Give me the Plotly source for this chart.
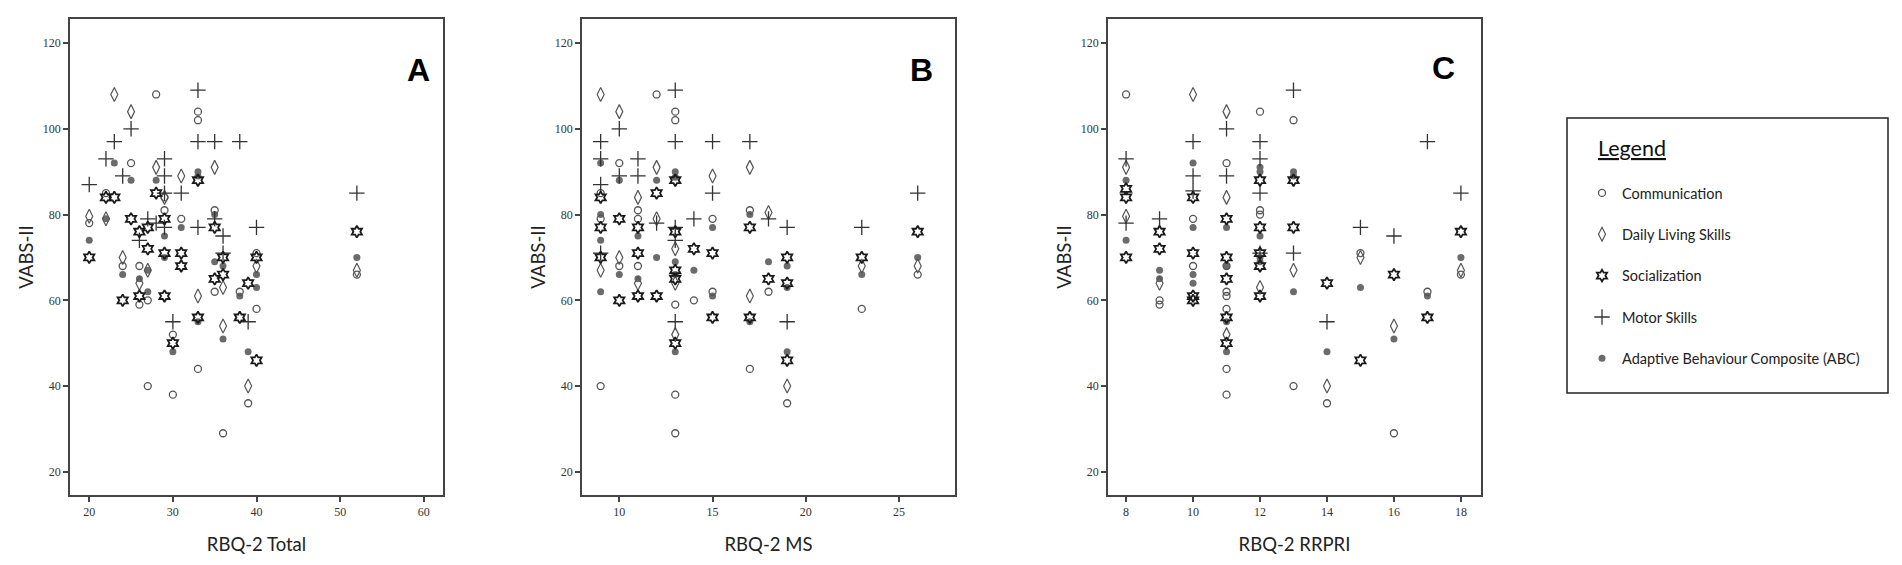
import plotly.graph_objects as go

# Panel A: RBQ-2 Total
a_comm_x = [20, 22, 24, 25, 26, 26, 27, 27, 28, 29, 29, 30, 30, 31, 33, 33, 33, 35, 35, 36, 38, 39, 40, 40, 52]
a_comm_y = [78, 85, 68, 92, 68, 59, 60, 40, 108, 84, 81, 52, 38, 79, 104, 102, 44, 81, 62, 29, 62, 36, 71, 58, 66]
a_dls_x = [20, 22, 23, 24, 25, 26, 27, 28, 29, 31, 33, 35, 36, 36, 39, 40, 52]
a_dls_y = [79.6, 79, 108, 70, 104, 64, 67, 91, 84, 89, 61, 91, 63, 54, 40, 68, 67]
a_soc_x = [20, 22, 23, 24, 25, 26, 26, 27, 27, 28, 29, 29, 29, 30, 31, 31, 33, 33, 35, 35, 36, 36, 38, 39, 40, 40, 52]
a_soc_y = [70, 84, 84, 60, 79, 76, 61, 77, 72, 85, 79, 71, 61, 50, 71, 68, 88, 56, 77, 65, 70, 66, 56, 64, 70, 46, 76]
a_mot_x = [20, 22, 23, 24, 25, 26, 27, 28, 29, 29, 29, 29, 30, 31, 33, 33, 33, 35, 35, 36, 36, 38, 39, 40, 52]
a_mot_y = [87, 93, 97, 89, 100, 74, 79, 78, 93, 89, 85, 77, 55, 85, 109, 97, 77, 97, 79, 75, 71, 97, 55, 77, 85]
a_abc_x = [20, 22, 23, 24, 25, 26, 27, 27, 28, 29, 29, 30, 31, 33, 33, 33, 35, 35, 36, 36, 38, 39, 40, 40, 52]
a_abc_y = [74, 79, 92, 66, 88, 65, 62, 67, 88, 75, 70, 48, 77, 90, 89, 55, 80, 69, 68, 51, 61, 48, 66, 63, 70]

# Panel B: RBQ-2 MS
b_comm_x = [9, 9, 9, 10, 10, 11, 11, 11, 12, 13, 13, 13, 13, 13, 14, 15, 15, 17, 17, 18, 19, 23, 26]
b_comm_y = [85, 79, 40, 92, 68, 81, 79, 68, 108, 104, 102, 59, 38, 29, 60, 79, 62, 81, 44, 62, 36, 58, 66]
b_dls_x = [9, 9, 10, 10, 11, 11, 12, 12, 13, 13, 13, 15, 17, 17, 18, 19, 23, 26]
b_dls_y = [108, 67, 104, 70, 84, 64, 91, 79, 72, 64, 52, 89, 91, 61, 80.5, 40, 68, 68]
b_soc_x = [9, 9, 9, 10, 10, 11, 11, 11, 12, 12, 13, 13, 13, 13, 13, 14, 15, 15, 17, 17, 18, 19, 19, 19, 23, 26]
b_soc_y = [84, 77, 70, 79, 60, 77, 71, 61, 85, 61, 88, 76, 67, 65, 50, 72, 71, 56, 77, 56, 65, 70, 64, 46, 70, 76]
b_mot_x = [9, 9, 9, 9, 10, 10, 11, 11, 12, 13, 13, 13, 13, 13, 14, 15, 15, 17, 18, 19, 19, 23, 26]
b_mot_y = [97, 93, 87, 71, 100, 89, 93, 89, 78, 109, 97, 77, 74, 55, 79, 97, 85, 97, 79, 77, 55, 77, 85]
b_abc_x = [9, 9, 9, 9, 10, 10, 11, 11, 12, 12, 13, 13, 13, 13, 13, 14, 15, 15, 17, 17, 18, 19, 19, 19, 23, 26]
b_abc_y = [92, 80, 74, 62, 88, 66, 75, 65, 88, 70, 90, 88.7, 69, 66, 48, 67, 77, 61, 80, 55, 69, 68, 63, 48, 66, 70]

# Panel C: RBQ-2 RRPRI
c_comm_x = [8, 9, 9, 10, 10, 11, 11, 11, 11, 11, 11, 11, 12, 12, 12, 13, 13, 14, 15, 16, 17, 18]
c_comm_y = [108, 60, 59, 79, 68, 92, 68, 62, 61, 58, 44, 38, 104, 81, 80, 102, 40, 36, 71, 29, 62, 66]
c_dls_x = [8, 8, 9, 10, 11, 11, 11, 12, 13, 14, 15, 16, 18]
c_dls_y = [91, 79.6, 64, 108, 104, 84, 52, 63, 67, 40, 70, 54, 67]
c_soc_x = [8, 8, 8, 9, 9, 10, 10, 10, 10, 11, 11, 11, 11, 11, 12, 12, 12, 12, 12, 13, 13, 14, 15, 16, 17, 18]
c_soc_y = [86, 84, 70, 76, 72, 84, 71, 61, 60, 79, 70, 65, 56, 50, 88, 77, 71, 68, 61, 88, 77, 64, 46, 66, 56, 76]
c_mot_x = [8, 8, 9, 10, 10, 10, 11, 11, 12, 12, 12, 12, 13, 13, 14, 15, 16, 17, 18]
c_mot_y = [93, 78, 79, 97, 89, 85.5, 100, 89, 97, 93, 85, 71, 109, 71, 55, 77, 75, 97, 85]
c_abc_x = [8, 8, 9, 9, 10, 10, 10, 10, 11, 11, 11, 11, 12, 12, 12, 12, 12, 13, 13, 13, 14, 15, 16, 17, 18]
c_abc_y = [88, 74, 67, 65, 92, 77, 66, 64, 77, 68, 55, 48, 91, 90, 75, 70, 69, 90, 89, 62, 48, 63, 51, 61, 70]

panel_titles = ["RBQ-2 Total", "RBQ-2 MS", "RBQ-2 RRPRI"]
panel_letters = ["A", "B", "C"]
x_ranges = [[17.7, 62.3], [8.0, 28.0], [7.46, 18.6]]
x_ticks = [[20, 30, 40, 50, 60], [10, 15, 20, 25], [8, 10, 12, 14, 16, 18]]
y_ticks = [20, 40, 60, 80, 100, 120]

W, H = 1902, 565
# frame edges in pixels (left, right), top/bottom shared
frames = [(70, 443), (582, 955), (1108, 1481)]
top_px, bottom_px = 19, 495
letter_pos = [(405, 50), (921, 50), (1457, 48)]
legend_box = (1567, 118, 1888, 393)

styles = {
    "Communication": dict(symbol="circle-open", size=7, color="#555555", line=dict(width=1.3, color="#555555")),
    "Daily Living Skills": dict(symbol="diamond-tall-open", size=10, color="#555555", line=dict(width=1.2, color="#555555")),
    "Socialization": dict(symbol="hexagram-open", size=9, color="#1a1a1a", line=dict(width=1.8, color="#1a1a1a")),
    "Motor Skills": dict(symbol="cross-thin-open", size=11, color="#333333", line=dict(width=1.3, color="#333333")),
    "Adaptive Behaviour Composite (ABC)": dict(symbol="circle", size=7, color="#6b6b6b", line=dict(width=0)),
}
legend_rank = {"Communication": 1, "Daily Living Skills": 2, "Socialization": 3,
               "Motor Skills": 4, "Adaptive Behaviour Composite (ABC)": 5}

panels = [
    {"Adaptive Behaviour Composite (ABC)": (a_abc_x, a_abc_y), "Communication": (a_comm_x, a_comm_y),
     "Daily Living Skills": (a_dls_x, a_dls_y), "Motor Skills": (a_mot_x, a_mot_y),
     "Socialization": (a_soc_x, a_soc_y)},
    {"Adaptive Behaviour Composite (ABC)": (b_abc_x, b_abc_y), "Communication": (b_comm_x, b_comm_y),
     "Daily Living Skills": (b_dls_x, b_dls_y), "Motor Skills": (b_mot_x, b_mot_y),
     "Socialization": (b_soc_x, b_soc_y)},
    {"Adaptive Behaviour Composite (ABC)": (c_abc_x, c_abc_y), "Communication": (c_comm_x, c_comm_y),
     "Daily Living Skills": (c_dls_x, c_dls_y), "Motor Skills": (c_mot_x, c_mot_y),
     "Socialization": (c_soc_x, c_soc_y)},
]

fig = go.Figure()

for i, series in enumerate(panels):
    ax = "" if i == 0 else str(i + 1)
    for name, (xs, ys) in series.items():
        fig.add_trace(go.Scatter(
            x=xs, y=ys, mode="markers", name=name,
            marker=styles[name],
            xaxis="x" + ax, yaxis="y" + ax,
            showlegend=(i == 0), legendgroup=name, legendrank=legend_rank[name],
            hoverinfo="x+y+name",
        ))

tick_font = dict(family="Liberation Serif, Times New Roman, serif", size=12, color="#333333")
title_font = dict(family="Lato, Open Sans, sans-serif", size=18.5, color="#222222")
sans = "Lato, Open Sans, sans-serif"

layout = dict(
    width=W, height=H,
    margin=dict(l=0, r=0, t=0, b=0),
    paper_bgcolor="white", plot_bgcolor="white",
    legend=dict(
        x=1582 / W, y=1 - 177 / H, xanchor="left", yanchor="top",
        borderwidth=0, bgcolor="rgba(0,0,0,0)",
        font=dict(family=sans, size=14.5, color="#222222"),
        tracegroupgap=19.5, itemsizing="trace",
    ),
)

y_dom = [1 - bottom_px / H, 1 - top_px / H]
for i, (l, r) in enumerate(frames):
    ax = "" if i == 0 else str(i + 1)
    layout["xaxis" + ax] = dict(
        domain=[l / W, r / W], range=x_ranges[i], tickvals=x_ticks[i],
        showline=True, linecolor="#444444", linewidth=1.5, mirror=True,
        ticks="outside", ticklen=5, tickwidth=1.5, tickcolor="#444444",
        showgrid=False, zeroline=False, tickfont=tick_font,
        title=dict(text=panel_titles[i], font=title_font, standoff=20),
        anchor="y" + ax,
    )
    layout["yaxis" + ax] = dict(
        domain=y_dom, range=[14.6, 125.6], tickvals=y_ticks,
        showline=True, linecolor="#444444", linewidth=1.5, mirror=True,
        ticks="outside", ticklen=5, tickwidth=1.5, tickcolor="#444444",
        showgrid=False, zeroline=False, tickfont=tick_font,
        title=dict(text="VABS-II", font=title_font, standoff=4),
        anchor="x" + ax,
    )

fig.update_layout(**layout)

for letter, (px, py) in zip(panel_letters, letter_pos):
    fig.add_annotation(
        x=px / W, y=1 - py / H, xref="paper", yref="paper",
        text="<b>%s</b>" % letter, showarrow=False,
        font=dict(family="Liberation Sans, Arial, sans-serif", size=32, color="#000000"),
    )

# legend frame and heading
bx0, by0, bx1, by1 = legend_box
fig.add_shape(type="rect", xref="paper", yref="paper",
              x0=bx0 / W, x1=bx1 / W, y0=1 - by1 / H, y1=1 - by0 / H,
              line=dict(color="#222222", width=1.5), fillcolor="rgba(0,0,0,0)")
fig.add_annotation(x=1596 / W, y=1 - 148 / H, xref="paper", yref="paper",
                   xanchor="left", yanchor="middle", showarrow=False,
                   text="<u>Legend</u>", font=dict(family=sans, size=21.5, color="#111111"))

fig.write_html("out.html", config={"displayModeBar": False},
               post_script="document.body.style.margin='0';")
